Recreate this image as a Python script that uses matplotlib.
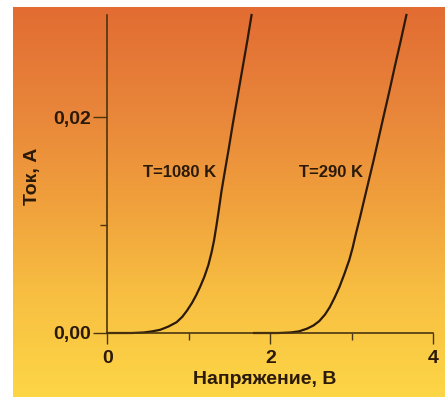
import numpy as np
import matplotlib
matplotlib.use('Agg')
import matplotlib.pyplot as plt
from matplotlib.colors import LinearSegmentedColormap

# данные (читаются с картинки)
v_1080 = [0, 0.3, 0.45, 0.55, 0.65, 0.75, 0.85, 0.92, 0.98, 1.04, 1.09, 1.14, 1.19, 1.24, 1.28, 1.31, 1.34, 1.37, 1.40, 1.44, 1.49, 1.54, 1.60, 1.66, 1.72, 1.77]
i_1080 = [0, 0, 0.00005, 0.00015, 0.0003, 0.0006, 0.001, 0.0015, 0.0021, 0.0028, 0.0035, 0.0043, 0.0052, 0.0063, 0.0075, 0.0086, 0.0100, 0.0115, 0.0131, 0.0149, 0.0171, 0.0194, 0.0220, 0.0246, 0.0272, 0.0295]
v_290 = [1.8, 2.1, 2.25, 2.35, 2.45, 2.53, 2.60, 2.67, 2.73, 2.79, 2.85, 2.91, 2.97, 3.01, 3.05, 3.10, 3.15, 3.21, 3.27, 3.33, 3.39, 3.46, 3.53, 3.60, 3.67]
i_290 = [0, 0, 0.00005, 0.00015, 0.0004, 0.0007, 0.0011, 0.0017, 0.0024, 0.0033, 0.0043, 0.0055, 0.0068, 0.0079, 0.0092, 0.0107, 0.0123, 0.0142, 0.0161, 0.0181, 0.0201, 0.0224, 0.0248, 0.0271, 0.0295]
labels = ['T=1080 K', 'T=290 K']
xticks = [0, 2, 4]
xticklabels = ['0', '2', '4']
yticks = [0, 0.02]
yticklabels = ['0,00', '0,02']

dark = '#2b1a0a'
axcol = '#4a3510'
W, H = 445, 397
fig = plt.figure(figsize=(W/100, H/100), dpi=100, facecolor='white')

# фон - градиент
bg = fig.add_axes([13/W, 0, 432/W, 390/H])
cmap = LinearSegmentedColormap.from_list('bg', ['#e26c32', '#e8843a', '#f0a03c', '#f8c042', '#fdd646'])
bg.imshow(np.linspace(0, 1, 256).reshape(-1, 1), aspect='auto', cmap=cmap, extent=[0, 1, 0, 1])
bg.axis('off')

ax = fig.add_axes([107.3/W, (H-333)/H, 326/W, 318/H])
ax.patch.set_alpha(0)
ax.plot(v_1080, i_1080, color=dark, lw=1.6, clip_on=False)
ax.plot(v_290, i_290, color=dark, lw=1.6, clip_on=False)
ax.set_xlim(0, 4)
ax.set_ylim(0, 0.0295)

for s in ['top', 'right']:
	ax.spines[s].set_visible(False)
for s in ['left', 'bottom']:
	ax.spines[s].set_color(axcol)
	ax.spines[s].set_linewidth(1.2)

ax.set_xticks(xticks)
ax.set_xticklabels(xticklabels)
ax.set_xticks([1, 3], minor=True)
ax.set_yticks(yticks)
ax.set_yticklabels(yticklabels)
ax.set_yticks([0.01], minor=True)
ax.tick_params(which='major', direction='out', length=8, width=1, color=axcol, labelcolor=dark, labelsize=14)
ax.tick_params(which='minor', direction='out', length=5, width=1, color=axcol)
ax.tick_params(axis='y', which='major', length=10, pad=2)
ax.tick_params(axis='x', which='major', pad=4)
for t in ax.get_xticklabels() + ax.get_yticklabels():
	t.set_fontfamily('Liberation Sans')
	t.set_fontweight('bold')

ax.text(0.89, 0.0149, labels[0], ha='center', va='center', fontsize=12, fontweight='bold', color=dark, family='Liberation Sans')
ax.text(2.75, 0.0149, labels[1], ha='center', va='center', fontsize=12, fontweight='bold', color=dark, family='Liberation Sans')

fig.text(265/W, 1-380/H, 'Напряжение, В', ha='center', va='center', fontsize=14, fontweight='bold', color=dark, family='Liberation Sans')
fig.text(33/W, 1-176/H, 'Ток, А', ha='center', va='center', rotation=90, fontsize=14, fontweight='bold', color=dark, family='Liberation Sans')

fig.savefig('out.png', dpi=100)
